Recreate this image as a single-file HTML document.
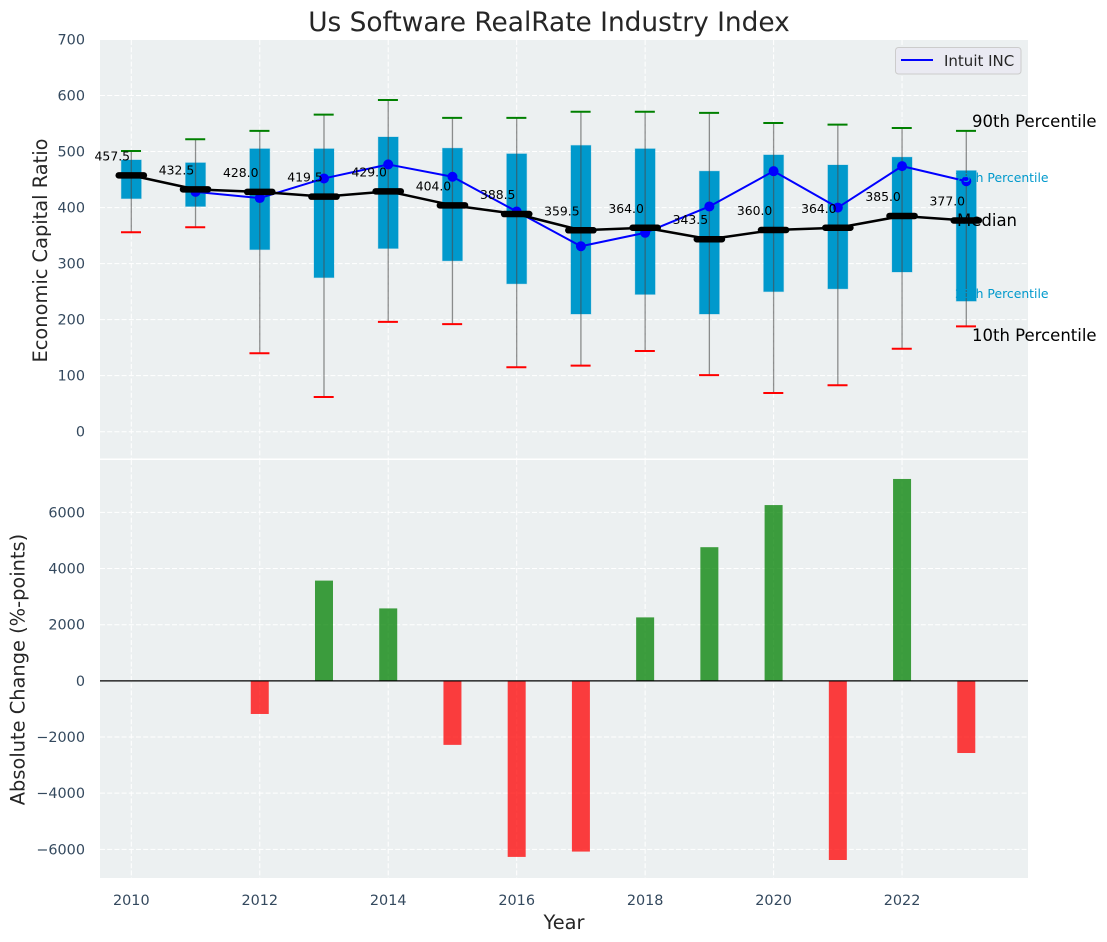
<!DOCTYPE html>
<html lang="en">
<head>
<meta charset="utf-8">
<title>Us Software RealRate Industry Index</title>
<style>
html,body{margin:0;padding:0;background:#fff;width:1107px;height:942px;overflow:hidden}
svg{display:block;font-family:"DejaVu Sans","Liberation Sans",sans-serif}
</style>
</head>
<body>
<svg id="chart" xmlns="http://www.w3.org/2000/svg" width="1107" height="942" viewBox="0 0 1107 942">
  <rect x="100" y="40" width="928" height="418.500" fill="#ecf0f1"/>
  <rect x="100" y="460" width="928" height="418" fill="#ecf0f1"/>
  <g id="grid"></g>
  <g id="ticks"></g>
  <g id="top-marks"></g>
  <g id="bottom-marks"></g>
  <text x="549" y="31" text-anchor="middle" font-size="26.400" fill="#262626">Us Software RealRate Industry Index</text>
  <text x="564" y="929" text-anchor="middle" font-size="19.400" fill="#262626">Year</text>
  <text transform="translate(47 250.5) rotate(-90)" text-anchor="middle" font-size="19.400" fill="#262626">Economic Capital Ratio</text>
  <text transform="translate(24.500 669.500) rotate(-90)" text-anchor="middle" font-size="19.400" fill="#262626">Absolute Change (%-points)</text>
  <text x="972" y="127" font-size="16.500" fill="#000">90th Percentile</text>
  <text x="957" y="226" font-size="16.500" fill="#000">Median</text>
  <text x="972" y="341" font-size="16.500" fill="#000">10th Percentile</text>
  <text x="955" y="182" font-size="12.400" fill="#0099cc">75th Percentile</text>
  <text x="955" y="298" font-size="12.400" fill="#0099cc">25th Percentile</text>
  <g>
    <rect x="895.500" y="47.500" width="125.500" height="26.500" rx="3" fill="#eaeaf2" stroke="#cccccc"/>
    <line x1="901" y1="60" x2="933" y2="60" stroke="#0000ff" stroke-width="2"/>
    <text x="944" y="66" font-size="15" fill="#262626">Intuit INC</text>
  </g>
</svg>
<script>
const years = [2010,2011,2012,2013,2014,2015,2016,2017,2018,2019,2020,2021,2022,2023];
const p90 = [501,522,537,566,592,560,560,571,571,569,551,548,542,537];
const p75 = [485,480,505,505,526,506,496,511,505,465,494,476,490,466];
const medians = [457.5,432.5,428.0,419.5,429.0,404.0,388.5,359.5,364.0,343.5,360.0,364.0,385.0,377.0];
const p25 = [416,402,325,275,327,305,264,210,245,210,250,255,285,233];
const p10 = [356,365,140,62,196,192,115,118,144,101,69,83,148,188];
const companyYears = [2011,2012,2013,2014,2015,2016,2017,2018,2019,2020,2021,2022,2023];
const companyValues = [428,417,452,477,455,393,331,355,402,465,400,474,447];
const changes = [0,0,-1180,3570,2580,-2280,-6270,-6080,2260,4760,6260,-6380,7190,-2570];
const xTicks = [2010,2012,2014,2016,2018,2020,2022];
const topTicks = [0,100,200,300,400,500,600,700];
const bottomTicks = [-6000,-4000,-2000,0,2000,4000,6000];

const NS = 'http://www.w3.org/2000/svg';
const xAt = v => 131.3 + (v - 2010) * 64.23;
const yTop = v => 431.7 - v * 0.5603;
const yBot = v => 680.85 - v * 0.02808;
function make(tag, parent, props, content) {
  const el = document.createElementNS(NS, tag);
  Object.keys(props).forEach(k => el.setAttribute(k, props[k]));
  if (content !== undefined) el.textContent = content;
  parent.appendChild(el);
  return el;
}
const grid = document.getElementById('grid');
const ticks = document.getElementById('ticks');
const top_ = document.getElementById('top-marks');
const bottom = document.getElementById('bottom-marks');
const gridStyle = {stroke:'#ffffff','stroke-width':1,'stroke-dasharray':'5 2.2'};

xTicks.forEach(t => {
  const a = make('line', grid, Object.assign({x1:xAt(t),x2:xAt(t),y1:40,y2:458.5}, gridStyle));
  
  
  const b = make('line', grid, Object.assign({x1:xAt(t),x2:xAt(t),y1:460,y2:878}, gridStyle));
  
  
  const l = make('text', ticks, {x:xAt(t),y:905,'text-anchor':'middle','font-size':14.4,fill:'#34495e'}, String(t));
  
  
});
topTicks.forEach(t => {
  const g = make('line', grid, Object.assign({x1:100,x2:1028,y1:yTop(t),y2:yTop(t)}, gridStyle));
  
  
  const l = make('text', ticks, {x:85,y:yTop(t)+5,'text-anchor':'end','font-size':14.4,fill:'#34495e'}, String(t));
  
  
});
bottomTicks.forEach(t => {
  const g = make('line', grid, Object.assign({x1:100,x2:1028,y1:yBot(t),y2:yBot(t)}, gridStyle));
  
  
  const txt = t < 0 ? '\u2212' + Math.abs(t) : String(t);
  const l = make('text', ticks, {x:85,y:yBot(t)+5,'text-anchor':'end','font-size':14.4,fill:'#34495e'}, txt);
  
  
});

years.forEach((yr, i) => {
  const cx = xAt(yr);
  const box = make('rect', top_, {x:cx-10,y:yTop(p75[i]),width:20,height:yTop(p25[i])-yTop(p75[i]),fill:'#0099cc',stroke:'#0099cc','stroke-opacity':.25,'stroke-width':1});
  
  
  const w = make('line', top_, {x1:cx,x2:cx,y1:yTop(p90[i]),y2:yTop(p10[i]),stroke:'#4a4a4a','stroke-opacity':.6,'stroke-width':1.3});
  
  
  const c1 = make('line', top_, {x1:cx-10.300,x2:cx+9.700,y1:yTop(p90[i]),y2:yTop(p90[i]),stroke:'#008000','stroke-width':2});
  
  
  const c2 = make('line', top_, {x1:cx-10.300,x2:cx+9.700,y1:yTop(p10[i]),y2:yTop(p10[i]),stroke:'#ff0000','stroke-width':2});
  
  
});

const blueLine = make('polyline', top_, {points:companyYears.map((yr,i)=>xAt(yr)+','+yTop(companyValues[i])).join(' '),fill:'none',stroke:'#0000ff','stroke-width':2,'stroke-linejoin':'round'});


companyYears.forEach((yr,i) => {
  const p = make('circle', top_, {cx:xAt(yr),cy:yTop(companyValues[i]),r:5,fill:'#0000ff'});
  
  
});

const medianLine = make('polyline', top_, {points:years.map((yr,i)=>xAt(yr)+','+yTop(medians[i])).join(' '),fill:'none',stroke:'#000000','stroke-width':2.500,'stroke-linejoin':'round'});


years.forEach((yr,i) => {
  const cx = xAt(yr);
  const y = yTop(medians[i]);
  const m = make('line', top_, {x1:cx-12.600,x2:cx+12.600,y1:y,y2:y,stroke:'#000000','stroke-width':6.500,'stroke-linecap':'round'});
  
  
  const t = make('text', top_, {x:cx-19,y:y-15,'text-anchor':'middle','font-size':12.4,fill:'#000000'}, medians[i].toFixed(1));
  
  
});

years.forEach((yr,i) => {
  const v = changes[i];
  if (v === 0) return;
  const y0 = yBot(Math.max(v,0));
  const y1 = yBot(Math.min(v,0));
  const b = make('rect', bottom, {x:xAt(yr)-9,y:y0,width:18,height:y1-y0,fill:v>0?'#008000':'#ff0000','fill-opacity':.75});
  
  
});
const zero = make('line', bottom, {x1:100,x2:1028,y1:yBot(0),y2:yBot(0),stroke:'#000000','stroke-width':1.300});


</script>
</body>
</html>
